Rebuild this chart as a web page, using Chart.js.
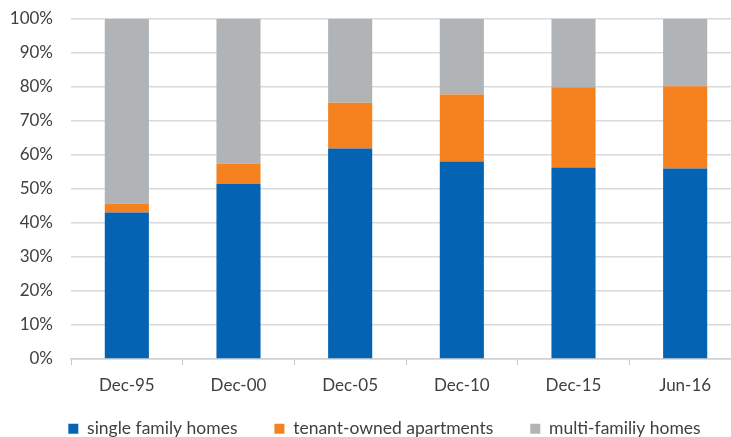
<!DOCTYPE html>
<html>
<head>
<meta charset="utf-8">
<script src="https://cdn.jsdelivr.net/npm/chart.js@4.4.0/dist/chart.umd.min.js"></script>
<style>
  body { margin: 0; background: #fff; overflow: hidden; }
  #wrap { width: 731px; height: 437px; overflow: hidden; }
</style>
</head>
<body>
<div id="wrap"><canvas id="myChart" width="769" height="437"></canvas></div>
<script>
// values (share of total, %)
const periods = ['Dec-95', 'Dec-00', 'Dec-05', 'Dec-10', 'Dec-15', 'Jun-16'];
const singleFamily = [43.1, 51.5, 61.9, 58.1, 56.3, 56.0];
const tenantOwned = [2.6, 6.0, 13.5, 19.7, 23.6, 24.2];
const multiFamily = [54.3, 42.5, 24.6, 22.2, 20.1, 19.8];
const yTicks = [0, 10, 20, 30, 40, 50, 60, 70, 80, 90, 100];

Chart.defaults.font.family = 'Lato, "Open Sans", sans-serif';
Chart.defaults.color = '#404040';

const data1 = {
    labels: periods,
    datasets: [
        { label: 'single family homes', data: singleFamily, backgroundColor: '#0563b3' },
        { label: 'tenant-owned apartments', data: tenantOwned, backgroundColor: '#f5821f' },
        { label: 'multi-familiy homes', data: multiFamily, backgroundColor: '#b1b4b7' }
    ]
};

const config = {
    type: 'bar',
    data: data1,
    options: {
        responsive: false,
        animation: false,
        layout: { padding: { top: 19, left: 0, right: 0, bottom: 0 } },
        datasets: { bar: { categoryPercentage: 1, barPercentage: 0.395 } },
        plugins: {
            tooltip: { enabled: false },
            legend: {
                position: 'bottom',
                maxHeight: 45,
                labels: {
                    boxWidth: 10,
                    boxHeight: 10,
                    padding: 28,
                    font: { size: 17.5 },
                    generateLabels: function (chart) {
                        const items = Chart.defaults.plugins.legend.labels.generateLabels(chart);
                        // a little extra room between the legend entries
                        items.forEach((it, i) => { if (i < items.length - 1) it.text += '  '; });
                        return items;
                    }
                }
            }
        },
        scales: {
            x: {
                stacked: true,
                grid: { display: true, drawOnChartArea: false, drawTicks: true, tickLength: 6, color: '#c8c8c8' },
                border: { color: '#d0d0d0', width: 1.5 },
                ticks: { font: { size: 17 }, padding: 10 },
                afterFit: function (scale) { scale.height = 33; }
            },
            y: {
                stacked: true,
                min: 0,
                max: 100,
                afterBuildTicks: function (scale) {
                    scale.ticks = yTicks.map(v => ({ value: v }));
                },
                grid: { color: '#d9d9d9', lineWidth: 1.5, drawTicks: true, tickLength: 18, tickColor: 'rgba(0,0,0,0)' },
                border: { display: false },
                ticks: {
                    font: { size: 17 },
                    padding: 0,
                    callback: v => v + '%'
                },
                afterFit: function (scale) { scale.width = 71; }
            },
            // empty right-hand axis: the original plot runs past the right edge of the picture
            yRight: {
                type: 'linear',
                position: 'right',
                grid: { display: false },
                border: { display: false },
                ticks: { display: false },
                afterFit: function (scale) { scale.width = 28; }
            }
        }
    }
};

const myChart = new Chart(document.getElementById('myChart'), config);
</script>
</body>
</html>
